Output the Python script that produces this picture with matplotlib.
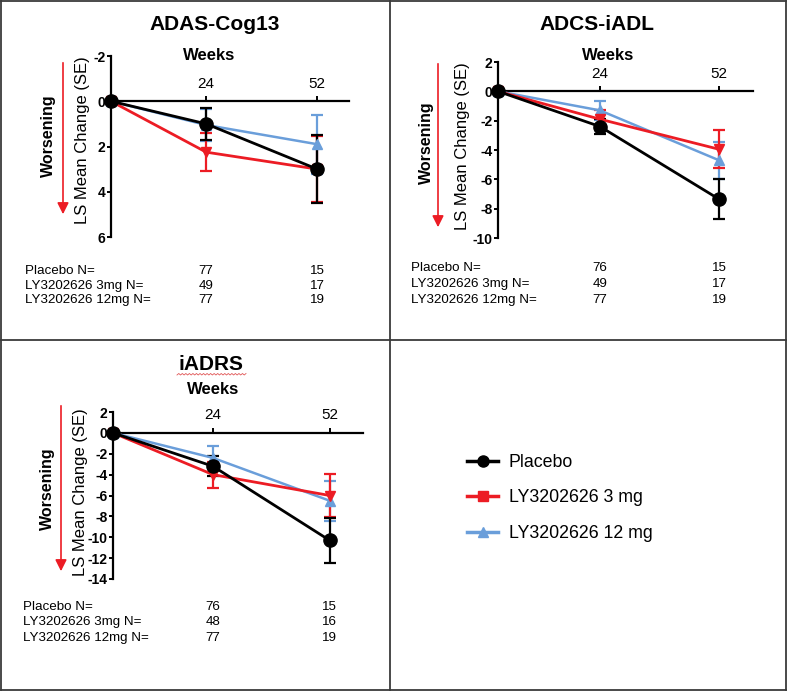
import numpy as np
import matplotlib
matplotlib.use("Agg")
import matplotlib.pyplot as plt
from matplotlib.lines import Line2D
import matplotlib.transforms as mtransforms

plt.rcParams['font.family'] = ['Liberation Sans', 'DejaVu Sans']

# ---------------- data ----------------
weeks = [0, 24, 52]
tick_weeks = [24, 52]
group_labels = ["Placebo N=", "LY3202626 3mg N=", "LY3202626 12mg N="]
legend_labels = ["Placebo", "LY3202626 3 mg", "LY3202626 12 mg"]

adas_placebo = [0, 1.0, 3.0]
adas_placebo_se = [0, 0.7, 1.5]
adas_3mg = [0, 2.25, 3.0]
adas_3mg_se = [0, 0.85, 1.45]
adas_12mg = [0, 1.05, 1.9]
adas_12mg_se = [0, 0.7, 1.3]
adas_n = [[77, 15], [49, 17], [77, 19]]

iadl_placebo = [0, -2.4, -7.35]
iadl_placebo_se = [0, 0.5, 1.35]
iadl_3mg = [0, -1.9, -3.95]
iadl_3mg_se = [0, 0.65, 1.3]
iadl_12mg = [0, -1.3, -4.7]
iadl_12mg_se = [0, 0.65, 1.25]
iadl_n = [[76, 15], [49, 17], [77, 19]]

iadrs_placebo = [0, -3.2, -10.3]
iadrs_placebo_se = [0, 0.95, 2.15]
iadrs_3mg = [0, -4.0, -6.0]
iadrs_3mg_se = [0, 1.25, 2.1]
iadrs_12mg = [0, -2.4, -6.5]
iadrs_12mg_se = [0, 1.1, 1.9]
iadrs_n = [[76, 15], [48, 16], [77, 19]]

# ---------------- style ----------------
BLACK = '#000000'
RED = '#EC1C24'
BLUE = '#6A9EDA'
BORDER = '#3a3a3a'

W, H = 787, 691
fig = plt.figure(figsize=(W / 100, H / 100), dpi=100)


def fx(px):
    return px / W


def fy(py):
    return 1 - py / H


panels = [
    dict(title="ADAS-Cog13", box=(111, 56, 349, 237), ylim=(6, -2), yticks=[-2, 0, 2, 4, 6],
         series=[(adas_12mg, adas_12mg_se), (adas_3mg, adas_3mg_se), (adas_placebo, adas_placebo_se)],
         n=adas_n, title_xy=(215, 25), weeks_xy=(209, 56), ylab_x=83, worse_x=48, worse_y=136,
         arrow_x=63, arrow_y=(60, 217), lab_y=140, n_rows=(271, 286, 300), n_x=25),
    dict(title="ADCS-iADL", box=(498, 62, 753, 238), ylim=(-10, 2), yticks=[2, 0, -2, -4, -6, -8, -10],
         series=[(iadl_12mg, iadl_12mg_se), (iadl_3mg, iadl_3mg_se), (iadl_placebo, iadl_placebo_se)],
         n=iadl_n, title_xy=(597, 24), weeks_xy=(608, 56), ylab_x=463, worse_x=426, worse_y=143,
         arrow_x=438, arrow_y=(61, 230), lab_y=146, n_rows=(268, 284, 300), n_x=411),
    dict(title="iADRS", box=(113, 412, 363, 579), ylim=(-14, 2),
         yticks=[2, 0, -2, -4, -6, -8, -10, -12, -14],
         series=[(iadrs_12mg, iadrs_12mg_se), (iadrs_3mg, iadrs_3mg_se), (iadrs_placebo, iadrs_placebo_se)],
         n=iadrs_n, title_xy=(211, 365), weeks_xy=(213, 389), ylab_x=80, worse_x=47, worse_y=489,
         arrow_x=61, arrow_y=(403, 574), lab_y=492, n_rows=(607, 622, 638), n_x=23),
]

styles = [
    dict(color=BLUE, marker='^', ms=7.5, lw=1.8),
    dict(color=RED, marker='v', ms=7.5, lw=2.0),
    dict(color=BLACK, marker='o', ms=9.5, lw=2.0),
]

for p in panels:
    l, t, r, b = p['box']
    ax = fig.add_axes([fx(l), fy(b), fx(r) - fx(l), (b - t) / H])
    ax.set_xlim(0, 60)
    ax.set_ylim(*p['ylim'])
    for (vals, se), st in zip(p['series'], styles):
        ax.errorbar(weeks, vals, yerr=se, color=st['color'], marker=st['marker'],
                    markersize=st['ms'], lw=st['lw'], elinewidth=1.6, capsize=4.5,
                    capthick=1.6, clip_on=False, zorder=3)
    ax.spines['right'].set_visible(False)
    ax.spines['bottom'].set_visible(False)
    ax.spines['top'].set_position(('data', 0))
    ax.spines['top'].set_linewidth(1.6)
    ax.spines['left'].set_linewidth(1.6)
    ax.xaxis.tick_top()
    ax.set_xticks(tick_weeks)
    ax.set_xticklabels([str(w) for w in tick_weeks], fontsize=11)
    ax.tick_params(axis='x', direction='out', length=3.5, width=1.4, pad=4)
    ax.set_yticks(p['yticks'])
    ax.set_yticklabels([str(v) for v in p['yticks']], fontsize=10, fontweight='bold')
    ax.tick_params(axis='y', direction='out', length=3, width=1.4, pad=1)
    ax.patch.set_alpha(0)

    fig.text(fx(p['title_xy'][0]), fy(p['title_xy'][1]), p['title'], fontsize=15,
             fontweight='bold', ha='center', va='center')
    fig.text(fx(p['weeks_xy'][0]), fy(p['weeks_xy'][1]), "Weeks", fontsize=12,
             fontweight='bold', ha='center', va='center')
    fig.text(fx(p['ylab_x']), fy(p['lab_y']), "LS Mean Change (SE)", fontsize=12,
             rotation=90, ha='center', va='center')
    fig.text(fx(p['worse_x']), fy(p['worse_y']), "Worsening", fontsize=11.5,
             fontweight='bold', rotation=90, ha='center', va='center')
    fig.add_artist(matplotlib.patches.FancyArrowPatch(
        (fx(p['arrow_x']), fy(p['arrow_y'][0])), (fx(p['arrow_x']), fy(p['arrow_y'][1])),
        transform=fig.transFigure, arrowstyle='-|>', mutation_scale=17, color=RED, lw=1.2))

    trans = mtransforms.blended_transform_factory(ax.transData, fig.transFigure)
    for gi, (lab, nvals) in enumerate(zip(group_labels, p['n'])):
        yy = fy(p['n_rows'][gi])
        fig.text(fx(p['n_x']), yy, lab, fontsize=9.6, ha='left', va='center')
        for wk, nv in zip(tick_weeks, nvals):
            ax.text(wk, yy, str(nv), fontsize=9.6, ha='center', va='center', transform=trans)

# spell-check underline under iADRS
xs = np.linspace(fx(177), fx(246), 40)
ys = fy(375) + (np.arange(40) % 2) * (1.5 / H)
fig.add_artist(Line2D(xs, ys, transform=fig.transFigure, color='#E05555', lw=0.6))

# panel borders
for seg in [((1, 1), (1, 690)), ((786, 786), (1, 690)), ((1, 786), (1, 1)), ((1, 786), (690, 690)),
            ((390, 390), (1, 690)), ((1, 786), (340, 340))]:
    fig.add_artist(Line2D([fx(seg[0][0]), fx(seg[0][1])], [fy(seg[1][0]), fy(seg[1][1])],
                          transform=fig.transFigure, color=BORDER, lw=1.3))

# legend
handles = [
    Line2D([], [], color=BLACK, marker='o', ms=8, lw=2.5),
    Line2D([], [], color=RED, marker='s', ms=7, lw=2.5),
    Line2D([], [], color=BLUE, marker='^', ms=7, lw=2.5),
]
fig.legend(handles, legend_labels, loc='center left', bbox_to_anchor=(fx(467), fy(498)),
           frameon=False, fontsize=12.8, handlelength=1.75, handletextpad=0.6,
           labelspacing=1.05, borderpad=0, borderaxespad=0)

fig.savefig("out.png", dpi=100)
